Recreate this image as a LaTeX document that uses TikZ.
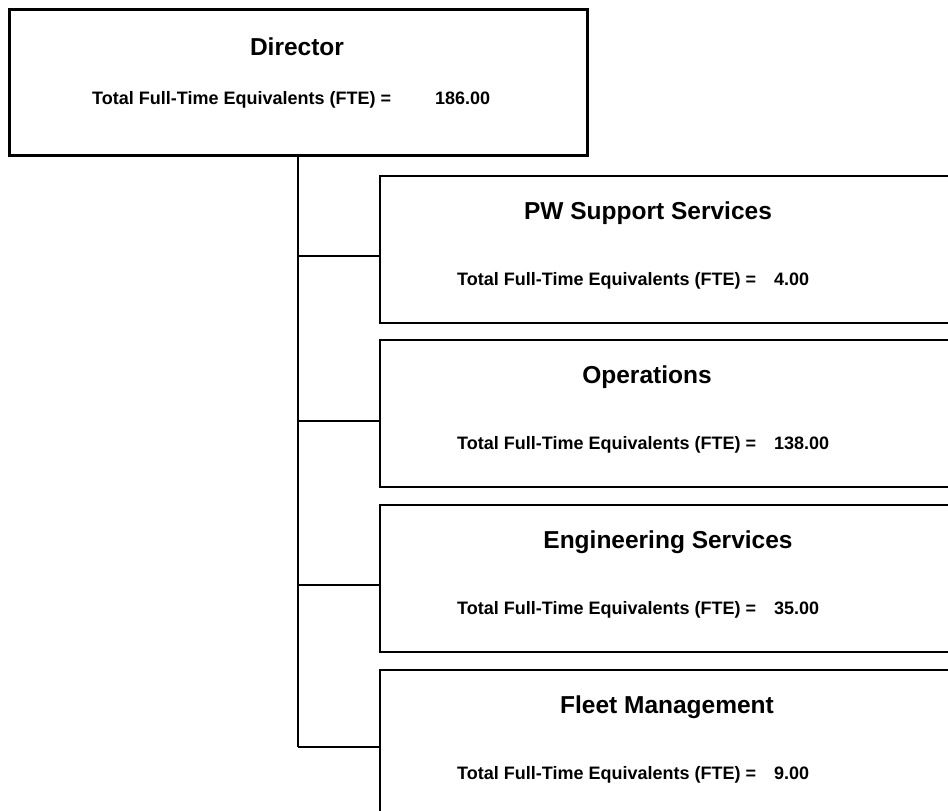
\documentclass[tikz,border=0pt]{standalone}
\usepackage{fontspec}
\setmainfont{Liberation Sans}
\usetikzlibrary{positioning}
\begin{document}
\begin{tikzpicture}[x=1pt,y=-1pt,
    unit/.style={draw, line width=2pt, minimum width=600pt, minimum height=147pt, anchor=north west, inner sep=0pt},
    ttl/.style={font=\fontsize{24.5}{28}\selectfont\bfseries, anchor=base, inner sep=0pt},
    fte/.style={font=\fontsize{18}{21}\selectfont\bfseries, anchor=base west, inner sep=0pt},
    link/.style={line width=2pt}]
    \useasboundingbox (0,0) rectangle (948,811);
    \node[unit, line width=3pt, minimum width=578pt, minimum height=146pt] (director) at (8,8) {};
    \node[ttl] (directorT) at (297,55) {Director};
    \node[fte] (directorL) at (92,104) {Total Full-Time Equivalents (FTE) =};
    \node[fte] (directorV) at (435,104) {186.00};
    \node[unit] (pw) at (379,175) {};
    \node[ttl] (pwT) at (648,219) {PW Support Services};
    \node[fte] (pwL) at (457,285) {Total Full-Time Equivalents (FTE) =};
    \node[fte] (pwV) at (774,285) {4.00};
    \node[unit] (ops) at (379,339) {};
    \node[ttl] (opsT) at (647,383) {Operations};
    \node[fte] (opsL) at (457,449) {Total Full-Time Equivalents (FTE) =};
    \node[fte] (opsV) at (774,449) {138.00};
    \node[unit] (eng) at (379,504) {};
    \node[ttl] (engT) at (668,548) {Engineering Services};
    \node[fte] (engL) at (457,614) {Total Full-Time Equivalents (FTE) =};
    \node[fte] (engV) at (774,614) {35.00};
    \node[unit] (fleet) at (379,669) {};
    \node[ttl] (fleetT) at (667,713) {Fleet Management};
    \node[fte] (fleetL) at (457,779) {Total Full-Time Equivalents (FTE) =};
    \node[fte] (fleetV) at (774,779) {9.00};
    \coordinate (j1) at (298,256);
    \coordinate (j2) at (298,421);
    \coordinate (j3) at (298,585);
    \coordinate (j4) at (298,747);
    \draw[link] (director.south -| j1) -- (j4);
    \draw[link] (j1) -- (j1 -| pw.west);
    \draw[link] (j2) -- (j2 -| ops.west);
    \draw[link] (j3) -- (j3 -| eng.west);
    \draw[link] (j4) -- (j4 -| fleet.west);
\end{tikzpicture}
\end{document}
